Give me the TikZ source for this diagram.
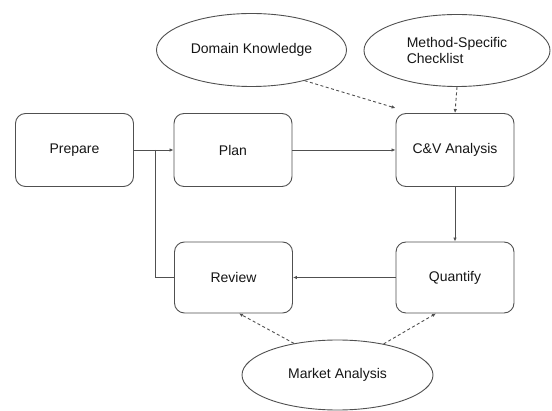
\documentclass[tikz,border=0pt]{standalone}
\usepackage{fontspec}
\setmainfont{Liberation Sans}
\usetikzlibrary{shapes.geometric,arrows.meta}
\definecolor{linec}{HTML}{505050}
\definecolor{textc}{HTML}{151515}
\tikzset{
  stepbox/.style={draw=linec, line width=0.9pt, rounded corners=10pt, minimum width=118pt, minimum height=73pt, inner sep=0pt, font=\fontsize{14}{15.5}\selectfont, text=textc},
  bubble/.style={ellipse, draw=linec, line width=0.9pt, inner sep=0pt, font=\fontsize{14}{15.5}\selectfont, text=textc, align=left},
  flow/.style={draw=linec, line width=0.9pt, -{Latex[length=4pt,width=3.5pt]}},
  plainline/.style={draw=linec, line width=0.9pt},
  dep/.style={draw=linec, line width=0.9pt, dash pattern=on 3pt off 2.5pt, -{Latex[length=4pt,width=3.5pt]}}
}
\begin{document}
\begin{tikzpicture}[x=1pt,y=-1pt]
\useasboundingbox (0,0) rectangle (552,411);
\node[stepbox] (prep) at (74.5,150) {Prepare};
\node[stepbox] (plan) at (233,150) {Plan};
\node[stepbox] (cv) at (455,150) {C\&V Analysis};
\node[stepbox, minimum height=71pt] (rev) at (233.5,277.5) {Review};
\node[stepbox, minimum height=71pt] (quant) at (455,277.5) {Quantify};
\node[bubble, minimum width=190pt, minimum height=73pt] (dom) at (251.5,50) {Domain Knowledge};
\node[bubble, minimum width=186pt, minimum height=72pt] (meth) at (457,50.5) {Method-Specific\\Checklist};
\node[bubble, minimum width=191pt, minimum height=70pt] (mkt) at (337.5,375) {Market Analysis};
\coordinate (j) at (155,150);
\draw[flow] (prep.east) -- (plan.west);
\draw[plainline] (j) |- (rev.west);
\draw[flow] (plan.east) -- (cv.west);
\draw[flow] (cv.south) -- (quant.north);
\draw[flow] (quant.west) -- (rev.east);
\draw[dep] (dom.-30) -- ([yshift=5pt]cv.north west);
\draw[dep] (meth.south) -- (cv.north);
\draw[dep] (mkt.144) -- ([xshift=5.5pt]rev.south);
\draw[dep] (mkt.34) -- ([xshift=-19pt]quant.south);
\end{tikzpicture}
\end{document}
